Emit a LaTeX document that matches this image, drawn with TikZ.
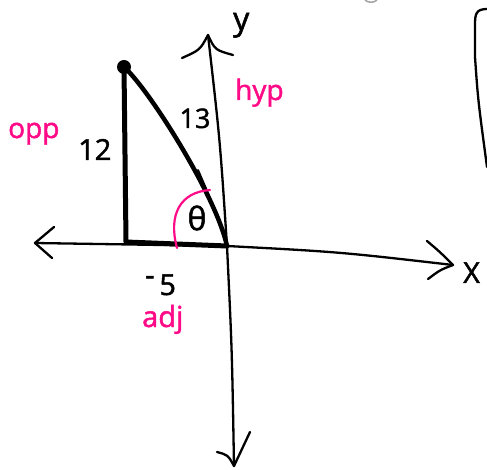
\documentclass[tikz,border=0pt]{standalone}
\usepackage{fontspec}
\newfontfamily\handfont{Open Sans}[FakeBold=1.6]
\definecolor{pinkink}{RGB}{255,10,135}
\begin{document}
\begin{tikzpicture}[x=1pt,y=-1pt,
  axis/.style={line width=2.3pt,line cap=round,line join=round},
  side/.style={line width=5pt,line cap=round,line join=round},
  lbl/.style={inner sep=0pt,anchor=base west,font=\handfont\fontsize{29}{29}\selectfont},
  pinklbl/.style={lbl,text=pinkink}]
\useasboundingbox (0,0) rectangle (487,470);
% coordinates
\coordinate (O) at (227,246);
\coordinate (A) at (124,67);
\coordinate (B) at (126,242);
\coordinate (xl) at (35,243);
\coordinate (xr) at (453,265);
\coordinate (yt) at (208,35);
\coordinate (yb) at (234,466);
% axes
\draw[axis] (xl) -- (O) .. controls (340,252) .. (xr);
\draw[axis] (54,227) -- (xl) -- (52,258);
\draw[axis] (427,241) .. controls (440,252) .. (xr) .. controls (440,270) .. (428,279);
\draw[axis] (yt) .. controls (220,140) .. (O) .. controls (232,350) .. (yb);
\draw[axis] (182,58) .. controls (200,50) .. (yt) .. controls (215,50) .. (233,55);
\draw[axis] (217,452) .. controls (228,455) .. (yb) -- (250,432);
% right bracket
\draw[axis] (487,9) .. controls (476,9) and (475,14) .. (475,25) -- (475,57) .. controls (478,100) .. (487,167);
% grey mark at top
\draw[line width=1.6pt,gray!70] (365,0) .. controls (368,3) and (374,3) .. (377,0);
% triangle
\draw[side] (A) -- (B) -- (O);
\draw[line width=4.5pt,line cap=round] (A) .. controls (148,88) and (216,195) .. (O);
\draw[line width=2pt,line cap=round] (198,170) .. controls (211,200) .. (O);
\fill (A) circle (7);
% angle arc
\draw[pinkink,line width=2.2pt,line cap=round] (210,190) .. controls (180,192) and (168,215) .. (177,248);
% labels
\node[lbl] (ylab) at (233,30) {\fontsize{32}{32}\selectfont y};
\node[lbl] (xlab) at (463,283) {X};
\node[lbl] (twelve) at (78,160) {12};
\node[lbl,anchor=base] (thirteen) at (195,128) {\fontsize{27}{27}\selectfont 13};
\node[lbl,anchor=center] (theta) at (197,218) {\fontsize{32}{32}\selectfont θ};
\node[lbl] (minusfive) at (145,295) {\raisebox{10pt}{-}\,5};
\node[pinklbl] (opp) at (8,138) {\fontsize{28}{28}\selectfont opp};
\node[pinklbl] (hyp) at (235,100) {\fontsize{28}{28}\selectfont hyp};
\node[pinklbl] (adj) at (142,327) {adj};
\end{tikzpicture}
\end{document}
